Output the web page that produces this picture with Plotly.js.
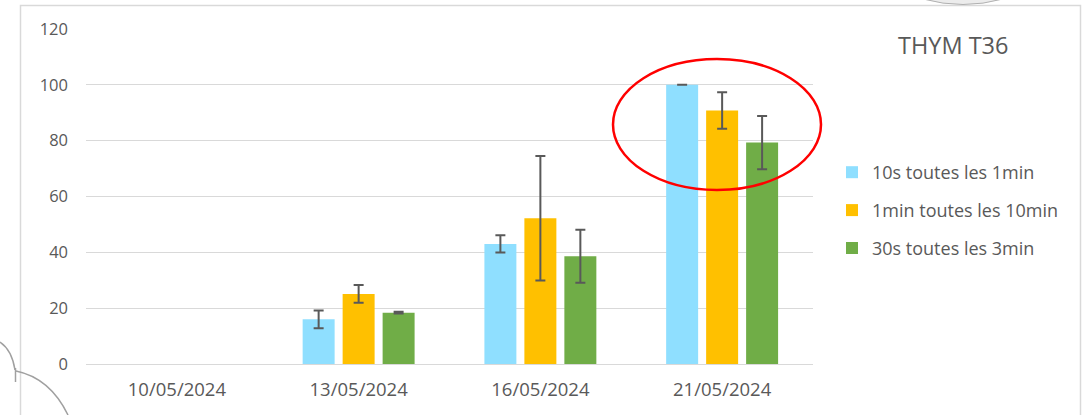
<!DOCTYPE html>
<html>
<head>
<meta charset="utf-8">
<script src="https://cdn.plot.ly/plotly-3.0.1.min.js"></script>
<style>
  html, body { margin: 0; padding: 0; background: #fff; }
  #chart { width: 1082px; height: 415px; }
</style>
</head>
<body>
<div id="chart"></div>
<script>
// dates on the x axis
var dates = ["10/05/2024", "13/05/2024", "16/05/2024", "21/05/2024"];

// series names
var seriesNames = ["10s toutes les 1min", "1min toutes les 10min", "30s toutes les 3min"];

// mean values per date (nothing on 10/05)
var val10s = [null, 16.0, 43.0, 100];
var val1min = [null, 25.1, 52.2, 90.8];
var val30s = [null, 18.4, 38.6, 79.3];

// error bars (+/-)
var err10s = [null, 3.2, 3.1, 0];
var err1min = [null, 3.2, 22.3, 6.5];
var err30s = [null, 0.3, 9.5, 9.5];

var colors = ["#8fdfff", "#ffc000", "#70ad47"];

// plot area in pixels, used to place the decorations
var plotL = 86, plotR = 813, plotT = 29, plotB = 364;
function px(x) { return (x - plotL) / (plotR - plotL); }
function py(y) { return (plotB - y) / (plotB - plotT); }
function pt(x, y) { return px(x) + "," + py(y); }

function makeTrace(name, y, err, color, i) {
    return {
        type: "bar",
        name: name,
        x: dates,
        y: y,
        legendgroup: "g" + i,
        marker: {color: color},
        error_y: {type: "data", array: err, visible: true, color: "#595959", thickness: 2, width: 5},
        hoverinfo: "y"
    };
}

var data = [
    makeTrace(seriesNames[0], val10s, err10s, colors[0], 0),
    makeTrace(seriesNames[1], val1min, err1min, colors[1], 1),
    makeTrace(seriesNames[2], val30s, err30s, colors[2], 2)
];

var grey = "#595959";

var layout = {
    width: 1082,
    height: 415,
    margin: {l: plotL, r: 1082 - plotR, t: plotT, b: 415 - plotB},
    paper_bgcolor: "#ffffff",
    plot_bgcolor: "#ffffff",
    font: {family: "Open Sans, sans-serif", color: grey, size: 16},
    showlegend: true,
    barmode: "group",
    bargap: 0.34,
    bargroupgap: 0.2,
    xaxis: {
        type: "category",
        showgrid: false,
        showline: false,
        ticks: "",
        ticklabelstandoff: 12,
        tickfont: {size: 18.5, color: grey}
    },
    yaxis: {
        range: [0, 120],
        dtick: 20,
        showgrid: true,
        gridcolor: "#d9d9d9",
        gridwidth: 1,
        zeroline: true,
        zerolinecolor: "#d9d9d9",
        zerolinewidth: 1,
        showline: false,
        ticks: "",
        ticklabelstandoff: 17,
        tickfont: {size: 16.5, color: grey}
    },
    legend: {
        x: px(832),
        y: py(154),
        xanchor: "left",
        yanchor: "top",
        font: {size: 18, color: grey},
        tracegroupgap: 11.5,
        bgcolor: "rgba(0,0,0,0)"
    },
    annotations: [{
        text: "THYM T36",
        xref: "paper", yref: "paper",
        x: px(953), y: py(45),
        xanchor: "center", yanchor: "middle",
        showarrow: false,
        font: {size: 23.5, color: grey}
    }],
    shapes: [
        // chart frame
        {type: "rect", xref: "paper", yref: "paper", x0: px(20.5), x1: px(1080.5), y0: py(440), y1: py(5.5),
         line: {color: "#d9d9d9", width: 1.5}, layer: "below"},
        // red circle round the last date
        {type: "circle", xref: "paper", yref: "paper", x0: px(613), x1: px(821), y0: py(190), y1: py(59),
         line: {color: "#ff0000", width: 2.5}},
        // bits of other shapes poking in at the corners
        {type: "path", xref: "paper", yref: "paper",
         path: "M" + pt(0, 342) + " Q" + pt(12, 350) + " " + pt(15, 370),
         line: {color: "#a0a0a0", width: 1.5}},
        {type: "path", xref: "paper", yref: "paper",
         path: "M" + pt(15.5, 368) + " L" + pt(15.5, 382),
         line: {color: "#a0a0a0", width: 1.5}},
        {type: "path", xref: "paper", yref: "paper",
         path: "M" + pt(16, 371) + " Q" + pt(50, 378) + " " + pt(68, 415),
         line: {color: "#a0a0a0", width: 1.5}},
        {type: "path", xref: "paper", yref: "paper",
         path: "M" + pt(923, -1) + " Q" + pt(963, 10) + " " + pt(1003, -1) + " Z",
         fillcolor: "#ececec", line: {color: "#b0b0b0", width: 1}}
    ]
};

Plotly.newPlot("chart", data, layout, {displayModeBar: false, staticPlot: true});
</script>
</body>
</html>
